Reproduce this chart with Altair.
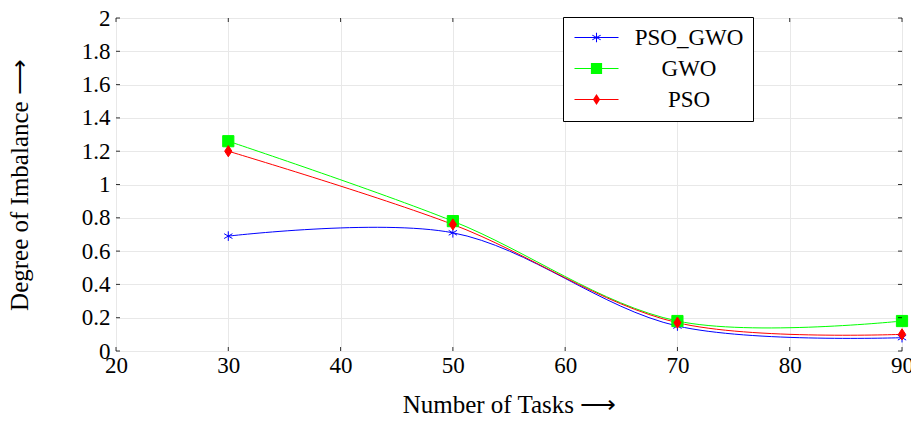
import altair as alt
import pandas as pd

tasks = [30, 50, 70, 90]
pso_gwo = [0.69, 0.71, 0.15, 0.08]
gwo = [1.26, 0.78, 0.18, 0.18]
pso = [1.20, 0.76, 0.17, 0.10]

series_names = ["PSO_GWO", "GWO", "PSO"]
series_colors = ["#0000ff", "#00ff00", "#ff0000"]
x_ticks = [20, 30, 40, 50, 60, 70, 80, 90]
y_ticks = [0, 0.2, 0.4, 0.6, 0.8, 1.0, 1.2, 1.4, 1.6, 1.8, 2.0]

rows = []
for name, vals in zip(series_names, [pso_gwo, gwo, pso]):
    for t, v in zip(tasks, vals):
        rows.append({"series": name, "x": t, "y": v})
df = pd.DataFrame(rows)

W, H = 786, 333
FONT = "Liberation Serif"
FS = 23
TFS = 25

# marker shapes (plot)
ast = "M0,-0.6L0,0.6M-0.52,-0.3L0.52,0.3M-0.52,0.3L0.52,-0.3"
sq = "M-0.7,-0.7H0.7V0.7H-0.7Z"
dia = "M0,-0.7L0.45,0L0,0.7L-0.45,0Z"
marker_paths = {"PSO_GWO": ast, "GWO": sq, "PSO": dia}
# legend symbols (line + marker), drawn with fill only
hline = "M-2.75,-0.065H2.75V0.065H-2.75Z"
ast_fill = ("M-0.065,-0.6H0.065V0.6H-0.065Z"
            "M-0.49,-0.352L0.55,0.248L0.49,0.352L-0.55,-0.248Z"
            "M-0.55,0.248L0.49,-0.352L0.55,-0.248L-0.49,0.352Z")
legend_paths = [hline + ast_fill, hline + sq, hline + dia]

xs = alt.Scale(domain=[20, 90], nice=False)
ys = alt.Scale(domain=[0, 2], nice=False)
cs = alt.Scale(domain=series_names, range=series_colors)

xaxis = alt.Axis(
    values=x_ticks, title="Number of Tasks ⟶", grid=True, gridColor="#e8e8e8",
    labelFlush=False, labelOverlap=False, labelFont=FONT, labelFontSize=FS,
    labelColor="black", labelPadding=3, ticks=False, domain=False,
    titleFont=FONT, titleFontSize=TFS, titleFontWeight="normal", titleColor="black",
    titleY=41, titleBaseline="top")
yaxis = alt.Axis(
    values=y_ticks, format="~g", title="Degree of Imbalance ⟶", grid=True,
    gridColor="#e8e8e8", labelOverlap=False, labelFont=FONT, labelFontSize=FS,
    labelColor="black", labelPadding=6, ticks=False, domain=False,
    titleFont=FONT, titleFontSize=TFS, titleFontWeight="normal", titleColor="black",
    titleX=-84, titleBaseline="bottom")

X = lambda f="x": alt.X(f + ":Q", scale=xs, axis=xaxis)
Y = lambda f="y": alt.Y(f + ":Q", scale=ys, axis=yaxis)

leg = alt.Legend(
    title=None, orient="none", legendX=447, legendY=-1,
    fillColor="white", strokeColor="black", padding=9,
    symbolSize=256, symbolStrokeWidth=0, symbolOffset=13, symbolOpacity=1,
    labelFont=FONT, labelFontSize=FS, labelColor="black",
    labelAlign="center", labelOffset=81, labelLimit=300,
    rowPadding=7, cornerRadius=0)

lines = alt.Chart(df).mark_line(interpolate="catmull-rom", strokeWidth=1).encode(
    x=X(), y=Y(),
    stroke=alt.Stroke("series:N", scale=cs, legend=None),
    detail="series:N",
)

points = []
for name in series_names:
    points.append(
        alt.Chart(df).transform_filter(alt.datum.series == name)
        .mark_point(shape=marker_paths[name], filled=True, size=256, strokeWidth=1, opacity=1)
        .encode(x=X(), y=Y(),
                fill=alt.Fill("series:N", scale=cs, legend=None),
                stroke=alt.Stroke("series:N", scale=cs, legend=None))
    )

legend_layer = alt.Chart(df).transform_filter("datum.y < -100").mark_point(
    filled=True, size=256
).encode(
    x=X(), y=Y(),
    shape=alt.Shape("series:N", scale=alt.Scale(domain=series_names, range=legend_paths), legend=leg),
    color=alt.Color("series:N", scale=cs, legend=leg),
)

xtick_df = pd.DataFrame({"x": x_ticks})
ytick_df = pd.DataFrame({"y": y_ticks})
tb = alt.Chart(xtick_df).mark_rule(color="black", strokeWidth=0.8).encode(x=X(), y=alt.value(H - 4), y2=alt.value(H))
tt = alt.Chart(xtick_df).mark_rule(color="black", strokeWidth=0.8).encode(x=X(), y=alt.value(0), y2=alt.value(4))
tl = alt.Chart(ytick_df).mark_rule(color="black", strokeWidth=0.8).encode(y=Y(), x=alt.value(0), x2=alt.value(4))
tr = alt.Chart(ytick_df).mark_rule(color="black", strokeWidth=0.8).encode(y=Y(), x=alt.value(W - 4), x2=alt.value(W))

chart = alt.layer(lines, *points, legend_layer, tb, tt, tl, tr).resolve_scale(
    shape="independent", color="independent"
).properties(
    width=W, height=H,
    padding={"left": 108, "top": 10, "right": 9, "bottom": 62},
    autosize=alt.AutoSizeParams(type="none"),
).configure_view(stroke="black", strokeWidth=1).configure(background="white")

chart.save("out.html", embed_options={"renderer": "svg", "actions": False})
